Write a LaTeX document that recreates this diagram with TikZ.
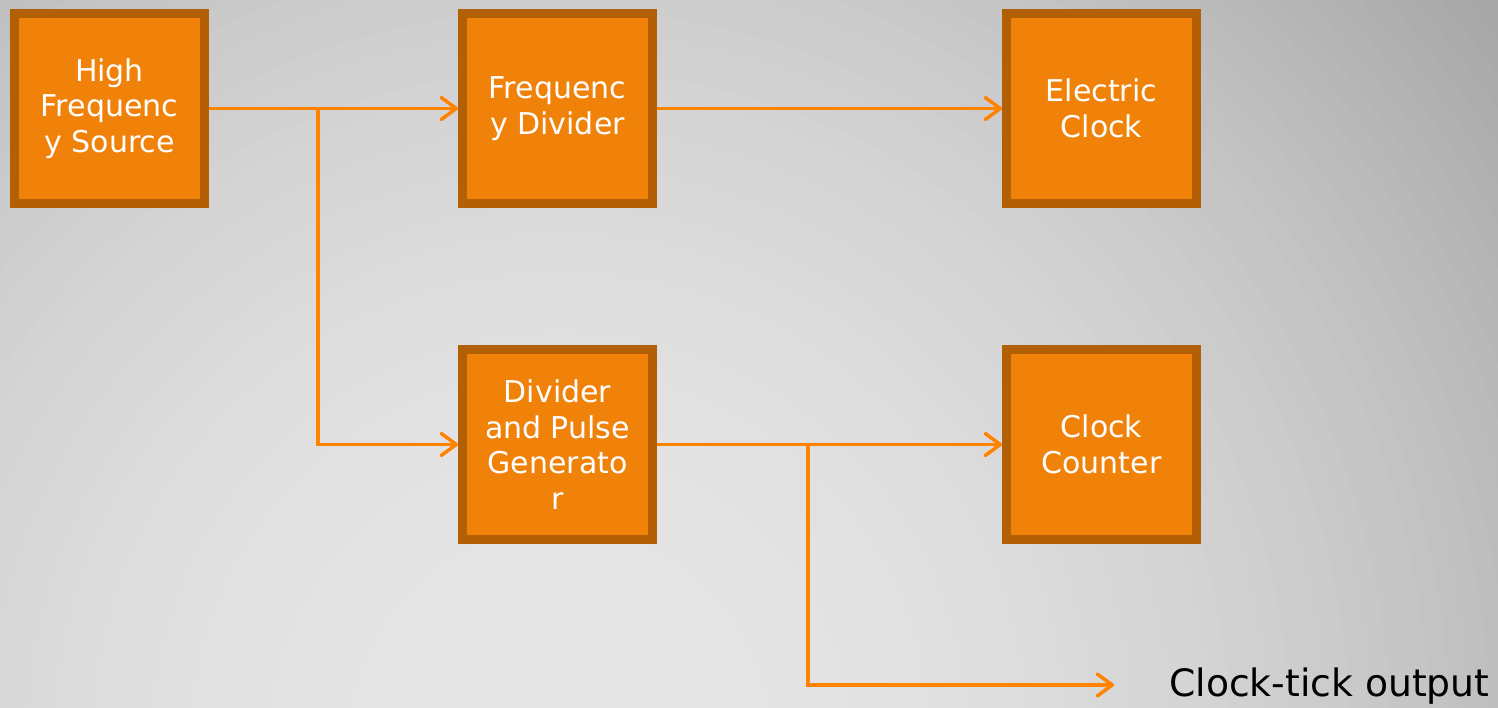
\documentclass[tikz,border=0pt]{standalone}
\usepackage{fontspec}
\setmainfont{DejaVu Sans}
\usetikzlibrary{arrows.meta}
\definecolor{boxfill}{RGB}{240,130,10}
\definecolor{boxedge}{RGB}{178,95,5}
\definecolor{wire}{RGB}{255,130,0}
\tikzset{
  block/.style={draw=boxedge, fill=boxfill, line width=9pt, minimum width=190pt,
    minimum height=190pt, inner sep=0pt, align=center, text=white,
    font=\fontsize{30}{35.5}\selectfont},
  wireline/.style={draw=wire, line width=3.5pt,
    -{Straight Barb[length=15pt,width=22pt,round]}},
  outlabel/.style={font=\fontsize{37.7}{44}\selectfont, text=black, inner sep=0pt}
}
\begin{document}
\begin{tikzpicture}[x=1pt,y=-1pt]
  \useasboundingbox (0,0) rectangle (1498,707);
  % grey backdrop: concentric rings, lightest near the lower middle
  \begin{scope}
    \clip (0,0) rectangle (1498,707);
    \foreach \r in {1300,1280,...,0} {
      \pgfmathtruncatemacro{\g}{max(168,231-0.000039*\r*\r)}
      \definecolor{ring}{RGB}{\g,\g,\g}
      \fill[ring] (560,740) circle ({\r pt + 10pt});
    }
  \end{scope}

  % blocks
  \node[block] (hfs) at (109.5,108.5) {High\\Frequenc\\y Source};
  \node[block] (fd)  at (557.5,108.5) {Frequenc\\y Divider};
  \node[block] (ec)  at (1101.5,108.5) {Electric\\Clock};
  \node[block] (dpg) at (557.5,444.5) {Divider\\and Pulse\\Generato\\r};
  \node[block] (cc)  at (1101.5,444.5) {Clock\\Counter};

  % junctions and free end
  \coordinate (j1) at (318,109);
  \coordinate (j2) at (808,445);
  \coordinate (tick) at (1114,685);
  \node[outlabel, anchor=west] (lbl) at (1169,686) {Clock-tick output};

  % connectors
  \draw[wireline] (hfs.east) -- (fd.west);
  \draw[wireline] (j1) |- (dpg.west);
  \draw[wireline] (fd.east) -- (ec.west);
  \draw[wireline] (dpg.east) -- (cc.west);
  \draw[wireline] (j2) |- (tick);
\end{tikzpicture}
\end{document}
